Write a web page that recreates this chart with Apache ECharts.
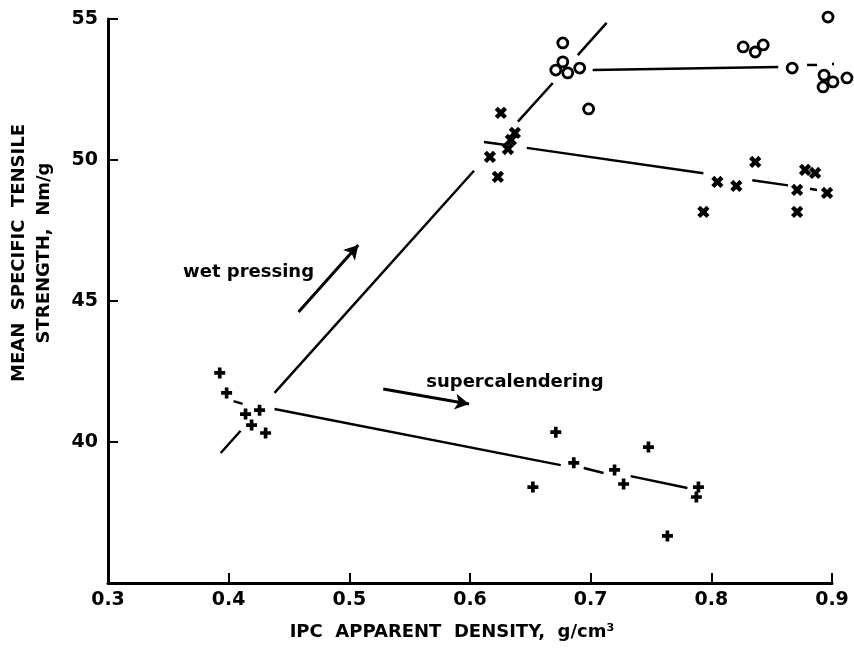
<!DOCTYPE html>
<html>
<head>
<meta charset="utf-8">
<script src="https://cdn.jsdelivr.net/npm/echarts@6/dist/echarts.min.js"></script>
<style>
  html, body { margin: 0; padding: 0; background: #fff; }
  #chart { width: 854px; height: 656px; }
</style>
</head>
<body>
<div id="chart"></div>
<script>
// density (g/cm3) vs tensile strength (Nm/g)
const circlePoints = [
  [0.6769, 54.15], [0.6769, 53.48], [0.6711, 53.19], [0.681, 53.09], [0.6909, 53.26],
  [0.6983, 51.81], [0.8264, 54.01], [0.8364, 53.83], [0.843, 54.08], [0.867, 53.26],
  [0.8967, 55.07], [0.8934, 53.01], [0.8926, 52.59], [0.9008, 52.77], [0.9124, 52.91],
];
const crossPoints = [
  [0.6256, 51.67], [0.6372, 50.96], [0.6339, 50.71], [0.6314, 50.39], [0.6165, 50.11],
  [0.6231, 49.4], [0.8364, 49.93], [0.805, 49.22], [0.8207, 49.08], [0.7934, 48.16],
  [0.8711, 48.94], [0.8711, 48.16], [0.8777, 49.65], [0.886, 49.54], [0.8959, 48.83],
];
const plusPoints = [
  [0.3926, 42.45], [0.3983, 41.74], [0.414, 40.99], [0.4256, 41.13], [0.419, 40.6],
  [0.4306, 40.32], [0.6711, 40.35], [0.6521, 38.4], [0.686, 39.26], [0.7198, 39.01],
  [0.7273, 38.51], [0.7479, 39.82], [0.7636, 36.67], [0.7893, 38.4], [0.7876, 38.05],
];

// fitted lines, drawn piece by piece (gaps / dashes as in the figure)
const wetLine = [
  [[0.3934, 39.61], [0.4099, 40.4]],
  [[0.438, 41.74], [0.6033, 49.62]],
  [[0.6397, 51.36], [0.6686, 52.73]],
  [[0.6893, 53.72], [0.7132, 54.86]],
];
const circleLine = [
  [[0.7017, 53.19], [0.8554, 53.3]],
  [[0.8793, 53.37], [0.8876, 53.37]],
  [[0.9, 53.4], [0.9107, 53.4]],
];
const crossLine = [
  [[0.6116, 50.64], [0.6298, 50.53]],
  [[0.6471, 50.43], [0.7934, 49.53]],
  [[0.8339, 49.28], [0.8636, 49.1]],
  [[0.8818, 48.98], [0.8876, 48.94]],
];
const plusLine = [
  [[0.4041, 41.45], [0.4116, 41.35]],
  [[0.438, 41.17], [0.6752, 39.18]],
  [[0.6942, 39.08], [0.7107, 38.9]],
  [[0.7331, 38.79], [0.7802, 38.37]],
];

const arrows = [
  { name: 'wet pressing', from: [0.4579, 44.61], to: [0.5074, 46.99], label: [0.4165, 46.0] },
  { name: 'supercalendering', from: [0.5281, 41.88], to: [0.5992, 41.35], label: [0.6372, 42.13] },
];

const xTicks = [0.3, 0.4, 0.5, 0.6, 0.7, 0.8, 0.9];
const yTicks = [40, 45, 50, 55];

const FONT = 'DejaVu Sans';
const PLUS = 'path://M4,0 L8,0 L8,4 L12,4 L12,8 L8,8 L8,12 L4,12 L4,8 L0,8 L0,4 L4,4 Z';

let chart = echarts.init(document.getElementById('chart'), null, { renderer: 'canvas' });

function segSeries(segs) {
  return segs.map(s => ({
    type: 'line',
    data: s,
    symbol: 'none',
    silent: true,
    clip: false,
    lineStyle: { color: '#000', width: 2.5 },
  }));
}

let series = [].concat(
  segSeries(wetLine),
  segSeries(circleLine),
  segSeries(crossLine),
  segSeries(plusLine),
  [
    {
      type: 'scatter',
      data: circlePoints,
      symbol: 'circle',
      symbolSize: 10,
      clip: false,
      itemStyle: { color: '#fff', borderColor: '#000', borderWidth: 2.8, opacity: 1 },
    },
    {
      type: 'scatter',
      data: crossPoints,
      symbol: PLUS,
      symbolSize: 13,
      symbolRotate: 45,
      clip: false,
      itemStyle: { color: '#000', opacity: 1 },
    },
    {
      type: 'scatter',
      data: plusPoints,
      symbol: PLUS,
      symbolSize: 11,
      clip: false,
      itemStyle: { color: '#000', opacity: 1 },
    },
    {
      // arrows + their labels
      type: 'scatter',
      data: arrows.map(a => ({ value: a.label, name: a.name })),
      symbolSize: 0,
      itemStyle: { opacity: 1 },
      label: {
        show: true,
        position: 'inside',
        formatter: '{b}',
        color: '#000',
        fontFamily: FONT,
        fontWeight: 'bold',
        fontSize: 18,
      },
      markLine: {
        silent: true,
        symbol: ['none', 'arrow'],
        symbolSize: [12, 14],
        label: { show: false },
        lineStyle: { color: '#000', width: 3, type: 'solid', opacity: 1 },
        data: arrows.map(a => [{ coord: a.from }, { coord: a.to }]),
      },
    },
  ]
);

let option = {
  backgroundColor: '#fff',
  animation: false,
  grid: { left: 108, right: 22, top: 19, bottom: 73, outerBoundsMode: 'none', containLabel: false },
  xAxis: {
    type: 'value',
    min: 0.3,
    max: 0.9,
    interval: 0.1,
    name: 'IPC  APPARENT  DENSITY,  g/cm³',
    nameLocation: 'middle',
    nameGap: 40,
    nameTextStyle: { color: '#000', fontFamily: FONT, fontWeight: 'bold', fontSize: 18, padding: [0, 36, 0, 0] },
    splitLine: { show: false },
    axisLine: { lineStyle: { color: '#000', width: 3 } },
    axisTick: { inside: true, length: 10, lineStyle: { color: '#000', width: 2 } },
    axisLabel: {
      customValues: xTicks,
      color: '#000',
      fontFamily: FONT,
      fontWeight: 'bold',
      fontSize: 19,
      margin: 8,
      formatter: v => v.toFixed(1),
    },
  },
  yAxis: {
    type: 'value',
    min: 35,
    max: 55,
    interval: 5,
    name: 'MEAN  SPECIFIC  TENSILE\nSTRENGTH,  Nm/g',
    nameLocation: 'middle',
    nameGap: 51,
    nameRotate: 90,
    nameTextStyle: {
      color: '#000',
      fontFamily: FONT,
      fontWeight: 'bold',
      fontSize: 18,
      lineHeight: 25,
      padding: [0, 0, 0, 96],
    },
    splitLine: { show: false },
    axisLine: { lineStyle: { color: '#000', width: 3 } },
    axisTick: { customValues: yTicks, inside: true, length: 10, lineStyle: { color: '#000', width: 2 } },
    axisLabel: {
      customValues: yTicks,
      color: '#000',
      fontFamily: FONT,
      fontWeight: 'bold',
      fontSize: 19,
      margin: 10,
    },
  },
  series: series,
};

chart.setOption(option);
</script>
</body>
</html>
